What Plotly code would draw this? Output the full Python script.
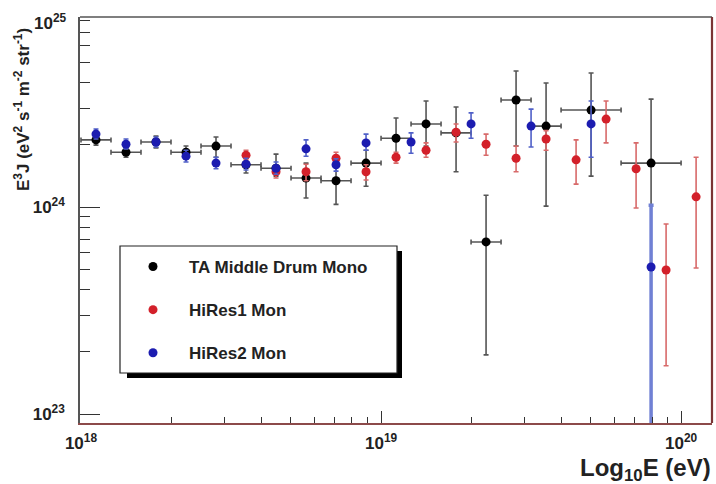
import plotly.graph_objects as go

# ---------------- data ----------------
# TA Middle Drum Mono (black): bin centre log10(E/eV), half bin width (in log10),
# E^3 J in units of 1e24, upper and lower error-bar ends (same units)
ta_logE = [18.05, 18.15, 18.25, 18.35, 18.45, 18.55, 18.65, 18.75, 18.85,
           18.95, 19.05, 19.15, 19.25, 19.35, 19.45, 19.55, 19.70, 19.90]
ta_halfw = [0.05, 0.05, 0.05, 0.05, 0.05, 0.05, 0.05, 0.05, 0.05,
            0.05, 0.05, 0.05, 0.05, 0.05, 0.05, 0.05, 0.10, 0.10]
ta_J = [2.11, 1.84, 2.06, 1.84, 1.97, 1.60, 1.54, 1.38, 1.34,
        1.63, 2.15, 2.52, 2.28, 0.678, 3.29, 2.46, 2.94, 1.63]
ta_hi = [2.23, 1.95, 2.20, 1.97, 2.18, 1.74, 1.80, 1.63, 1.63,
         1.88, 2.69, 3.25, 3.04, 1.14, 4.54, 3.97, 4.44, 3.32]
ta_lo = [1.99, 1.74, 1.93, 1.72, 1.74, 1.46, 1.41, 1.105, 1.03,
         1.26, 1.74, 1.97, 1.48, 0.193, 1.97, 1.01, 1.41, 0.05]

# HiRes1 Mono (red)
hr1_logE = [18.55, 18.65, 18.75, 18.85, 18.95, 19.05, 19.15, 19.25,
            19.35, 19.45, 19.55, 19.65, 19.75, 19.85, 19.95, 20.05]
hr1_J = [1.78, 1.48, 1.48, 1.72, 1.48, 1.74, 1.88, 2.30,
         2.01, 1.72, 2.13, 1.69, 2.66, 1.53, 0.496, 1.12]
hr1_hi = [1.88, 1.58, 1.61, 1.84, 1.60, 1.84, 2.04, 2.52,
          2.25, 1.97, 2.34, 2.11, 3.25, 2.04, 0.828, 1.74]
hr1_lo = [1.69, 1.38, 1.34, 1.61, 1.35, 1.63, 1.74, 2.06,
          1.78, 1.48, 1.88, 1.29, 2.04, 0.989, 0.171, 0.507]

# HiRes2 Mono (blue)
hr2_logE = [18.05, 18.15, 18.25, 18.35, 18.45, 18.55, 18.65, 18.75,
            18.85, 18.95, 19.10, 19.30, 19.50, 19.70, 19.90]
hr2_J = [2.25, 2.01, 2.06, 1.76, 1.63, 1.61, 1.54, 1.91,
         1.60, 2.04, 2.06, 2.52, 2.46, 2.52, 0.513]
hr2_hi = [2.38, 2.13, 2.18, 1.88, 1.74, 1.72, 1.65, 2.11,
          1.71, 2.25, 2.28, 2.85, 2.97, 3.25, 1.02]
hr2_lo = [2.13, 1.91, 1.95, 1.65, 1.53, 1.51, 1.44, 1.76,
          1.49, 1.88, 1.82, 2.15, 1.95, 1.74, 0.01]

UNIT = 1e24
x_tickvals = [1e18, 1e19, 1e20]
x_ticktext = ["10<sup>18</sup>", "10<sup>19</sup>", "10<sup>20</sup>"]
y_tickvals = [1e23, 1e24]
y_ticktext = ["10<sup>23</sup>", "10<sup>24</sup>"]
y_top_label = "10<sup>25</sup>"
names = ["TA Middle Drum Mono", "HiRes1 Mon", "HiRes2 Mon"]

FONT = "Liberation Sans"
C_BLACK, C_RED, C_BLUE = "#000000", "#d3202a", "#1c1cb0"
E_BLACK, E_RED, E_BLUE = "#555555", "#d86a6a", "#5060c8"


def yerr(J, hi, lo):
    up = [(h - j) * UNIT for j, h in zip(J, hi)]
    dn = [(j - l) * UNIT for j, l in zip(J, lo)]
    return up, dn


fig = go.Figure()

# black
E = [10.0 ** v for v in ta_logE]
xe_up = [10.0 ** (v + w) - 10.0 ** v for v, w in zip(ta_logE, ta_halfw)]
xe_dn = [10.0 ** v - 10.0 ** (v - w) for v, w in zip(ta_logE, ta_halfw)]
up, dn = yerr(ta_J, ta_hi, ta_lo)
fig.add_trace(go.Scatter(
    x=E, y=[j * UNIT for j in ta_J], mode="markers", name=names[0],
    legendgroup="ta",
    marker=dict(color=C_BLACK, size=9),
    error_y=dict(type="data", array=up, arrayminus=dn, color=E_BLACK, thickness=1.6, width=2.5),
    error_x=dict(type="data", array=xe_up, arrayminus=xe_dn, color=E_BLACK, thickness=1.6, width=2.5),
))

# red
up, dn = yerr(hr1_J, hr1_hi, hr1_lo)
fig.add_trace(go.Scatter(
    x=[10.0 ** v for v in hr1_logE], y=[j * UNIT for j in hr1_J], mode="markers",
    name=names[1], legendgroup="hr1",
    marker=dict(color=C_RED, size=9),
    error_y=dict(type="data", array=up, arrayminus=dn, color=E_RED, thickness=1.6, width=2.5),
))

# blue (last point has a thicker error band)
up, dn = yerr(hr2_J, hr2_hi, hr2_lo)
fig.add_trace(go.Scatter(
    x=[10.0 ** v for v in hr2_logE[:-1]], y=[j * UNIT for j in hr2_J[:-1]], mode="markers",
    name=names[2], legendgroup="hr2",
    marker=dict(color=C_BLUE, size=9),
    error_y=dict(type="data", array=up[:-1], arrayminus=dn[:-1], color=E_BLUE, thickness=1.6, width=2.5),
))
fig.add_trace(go.Scatter(
    x=[10.0 ** hr2_logE[-1]], y=[hr2_J[-1] * UNIT], mode="markers",
    name=names[2], legendgroup="hr2", showlegend=False,
    marker=dict(color=C_BLUE, size=9),
    error_y=dict(type="data", array=up[-1:], arrayminus=dn[-1:], color="#7080d4", thickness=3.5, width=2.5),
))

x_minor = [float(k) * 10.0 ** d for d in (18, 19) for k in range(2, 10)]
y_minor = [float(k) * 10.0 ** d for d in (23, 24) for k in range(2, 10)]

TICK_C = "#333333"
fig.update_xaxes(
    type="log", range=[17.9967, 20.103],
    tickmode="array", tickvals=x_tickvals, ticktext=x_ticktext,
    ticks="inside", ticklen=12, tickwidth=1.2, tickcolor=TICK_C,
    minor=dict(tickmode="array", tickvals=x_minor, ticks="inside", ticklen=6,
               tickwidth=1.2, tickcolor=TICK_C, showgrid=False),
    showgrid=False, zeroline=False,
    showline=True, linecolor="#8c4a4a", linewidth=2,
    tickfont=dict(family=FONT, size=17, color="#222", weight="bold"),
    ticklabelstandoff=4,
)
fig.update_yaxes(
    type="log", range=[22.9565, 24.918],
    tickmode="array", tickvals=y_tickvals, ticktext=y_ticktext,
    ticks="inside", ticklen=20, tickwidth=1.2, tickcolor=TICK_C,
    minor=dict(tickmode="array", tickvals=y_minor, ticks="inside", ticklen=10,
               tickwidth=1.2, tickcolor=TICK_C, showgrid=False),
    showgrid=False, zeroline=False,
    showline=True, linecolor="#555555", linewidth=1.5,
    tickfont=dict(family=FONT, size=17, color="#222", weight="bold"),
    ticklabelstandoff=10,
)

W, H = 716, 484
L, R, T, B = 80, 4, 17, 61
PW, PH = W - L - R, H - T - B


def px(xp):
    return (xp - L) / PW


def py(yp):
    return (H - B - yp) / PH


shapes = [
    # frame: top and right
    dict(type="line", xref="paper", yref="paper", x0=0, x1=1, y0=1, y1=1,
         line=dict(color="#555555", width=1.5), layer="above"),
    dict(type="line", xref="paper", yref="paper", x0=1, x1=1, y0=0, y1=1,
         line=dict(color="#7a3535", width=2.2), layer="above"),
    # legend shadow and box
    dict(type="rect", xref="paper", yref="paper", x0=px(127), x1=px(402), y0=py(378), y1=py(251),
         fillcolor="black", line=dict(width=0), layer="above"),
    dict(type="rect", xref="paper", yref="paper", x0=px(120), x1=px(397), y0=py(373), y1=py(246),
         fillcolor="white", line=dict(color="#222", width=1.2), layer="above"),
]

annotations = [
    dict(text="E<sup>3</sup>J (eV<sup>2</sup> s<sup>-1</sup> m<sup>-2</sup> str<sup>-1</sup>)",
         xref="paper", yref="paper", x=px(22), y=py(110), textangle=-90,
         xanchor="center", yanchor="middle", showarrow=False,
         font=dict(family=FONT, size=17, color="#222", weight="bold")),
    dict(text="Log<sub>10</sub>E (eV)", xref="paper", yref="paper",
         x=px(713), y=py(469), xanchor="right", yanchor="middle", showarrow=False,
         font=dict(family=FONT, size=24, color="#222", weight="bold")),
    dict(text=y_top_label, xref="paper", yref="paper", x=px(69), y=py(22),
         xanchor="right", yanchor="middle", showarrow=False,
         font=dict(family=FONT, size=17, color="#222", weight="bold")),
]

fig.update_layout(
    width=W, height=H, margin=dict(l=L, r=R, t=T, b=B, pad=0),
    paper_bgcolor="white", plot_bgcolor="white",
    font=dict(family=FONT, color="#222"),
    shapes=shapes, annotations=annotations,
    showlegend=True,
    legend=dict(x=px(117), xanchor="left", y=py(249), yanchor="top",
                bgcolor="rgba(0,0,0,0)", borderwidth=0,
                font=dict(family=FONT, size=17, color="#222", weight="bold"),
                itemwidth=62, tracegroupgap=18, traceorder="grouped"),
)

fig.write_html("out.html")
